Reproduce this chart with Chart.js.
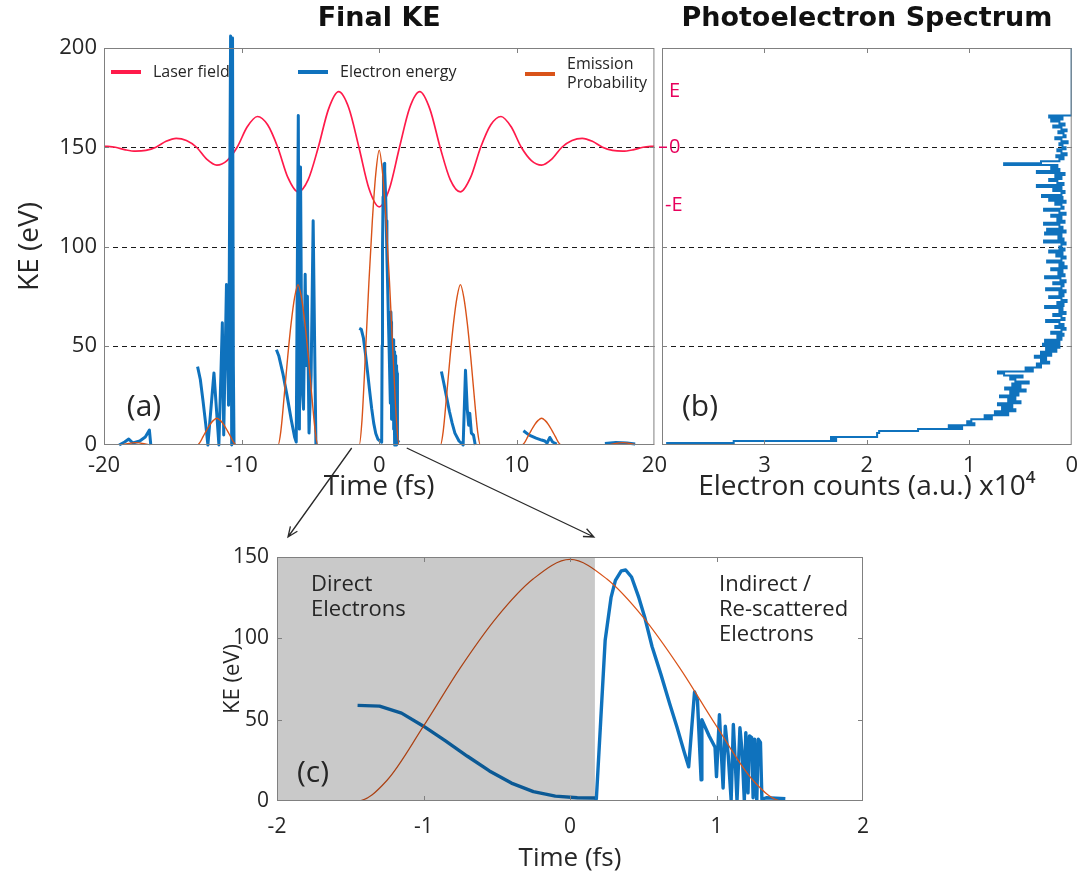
<!DOCTYPE html>
<html>
<head>
<meta charset="utf-8">
<script src="https://cdn.jsdelivr.net/npm/chart.js@4.4.1/dist/chart.umd.min.js"></script>
<style>
  body { margin: 0; background: #fff; }
  #wrap { position: relative; width: 1086px; height: 875px; overflow: hidden; }
  canvas { position: absolute; }
</style>
</head>
<body>
<div id="wrap">
  <canvas id="cA" width="675" height="510" style="left:0;top:0"></canvas>
  <canvas id="cB" width="446" height="510" style="left:640px;top:0"></canvas>
  <canvas id="cC" width="700" height="345" style="left:190px;top:530px"></canvas>
  <canvas id="arrows" width="1086" height="875" style="left:0;top:0;pointer-events:none"></canvas>
</div>
<script>
// Laser field (drawn offset around 150 eV)
const laserT = [-20, -19.175, -18.44, -17.7, -16.96, -16.225, -15.49, -14.75, -14.01, -13.275, -12.54, -11.8, -11.06, -10.325,
  -9.59, -8.85, -8.11, -7.375, -6.64, -5.9, -5.16, -4.425, -3.69, -2.95, -2.21, -1.475, -0.74, 0,
  0.74, 1.475, 2.21, 2.95, 3.69, 4.425, 5.16, 5.9, 6.64, 7.375, 8.11, 8.85, 9.59, 10.325, 11.06, 11.8,
  12.54, 13.275, 14.01, 14.75, 15.49, 16.225, 16.96, 17.7, 18.44, 19.175, 20];
const laserKE = [150.6, 150, 148.7, 148, 148.4, 150, 153, 154.5, 153.4, 150, 144, 141, 143.3, 150,
  160.3, 165.5, 161.3, 150, 134.8, 127.5, 133.7, 150, 169.1, 178, 169.8, 150, 129.1, 120,
  129.1, 150, 169.8, 178, 169.1, 150, 133.7, 127.5, 134.8, 150, 161.3, 165.5, 160.3, 150, 143.3, 141,
  144, 150, 153.4, 154.5, 153, 150, 148.4, 148, 148.7, 150, 150.6];

// Emission probability (scaled to eV axis)
const emissionT = [-20, -18.9, -17.7, -16.5,
  -13.25, -13.05, -12.8, -12.55, -12.3, -12.05, -11.8, -11.55, -11.3, -11.05, -10.8, -10.55, -10.35,
  -7.35, -7.15, -6.9, -6.65, -6.4, -6.15, -5.9, -5.65, -5.4, -5.15, -4.9, -4.65, -4.45,
  -1.45, -1.25, -1, -0.75, -0.5, -0.25, 0, 0.25, 0.5, 0.75, 1, 1.25, 1.45,
  4.45, 4.65, 4.9, 5.15, 5.4, 5.65, 5.9, 6.15, 6.4, 6.65, 6.9, 7.15, 7.35,
  10.35, 10.55, 10.8, 11.05, 11.3, 11.55, 11.8, 12.05, 12.3, 12.55, 12.8, 13.05, 13.25,
  16.5, 17.7, 18.9, 20];
const emissionKE = [0, 0, 1.2, 0,
  0, 1.1, 4.2, 7.4, 10.3, 12.4, 13.5, 12.4, 10.3, 7.4, 4.2, 1.1, 0,
  0, 6.9, 25, 44.4, 61.4, 74.3, 80.8, 74.3, 61.4, 44.4, 25, 6.9, 0,
  0, 12.6, 46, 81.7, 112.9, 136.6, 148.5, 136.6, 112.9, 81.7, 46, 12.6, 0,
  0, 6.9, 25, 44.4, 61.4, 74.3, 80.8, 74.3, 61.4, 44.4, 25, 6.9, 0,
  0, 1.1, 4.2, 7.4, 10.3, 12.4, 13.5, 12.4, 10.3, 7.4, 4.2, 1.1, 0,
  0, 1.2, 0, 0];

// Final electron energy vs. birth time (null = gap)
const elecT = [
  -18.9, -18.5, -18.2, -17.9, -17.4, -17.0, -16.7, -16.6,
  -15,
  -13.2, -13.0, -12.8, -12.6, -12.45, -12.01, -11.65, -11.4, -11.3, -11.1, -10.95, -10.8, -10.72, -10.66, -10.6, -10.55,
  -9,
  -7.47, -7.3, -7.0, -6.7, -6.4, -6.15, -6.03, -5.88, -5.8, -5.72, -5.62, -5.5, -5.38, -5.3, -5.22, -5.1, -4.95, -4.8, -4.7, -4.6,
  -3,
  -1.45, -1.3, -1.15, -1.0, -0.85, -0.7, -0.55, -0.4, -0.25, -0.1, 0.05, 0.17,
  0.18, 0.21, 0.24, 0.28, 0.31, 0.35, 0.38, 0.42, 0.47, 0.51, 0.56, 0.62, 0.68, 0.73, 0.78, 0.81,
  0.85, 0.87, 0.895, 0.9, 0.95, 0.99, 1.0, 1.02, 1.045, 1.06, 1.08, 1.1, 1.115, 1.13, 1.14,
  1.16, 1.175, 1.19, 1.2, 1.215, 1.225, 1.24, 1.25, 1.26, 1.275, 1.285, 1.3, 1.31, 1.34, 1.47,
  3,
  4.52, 4.7, 4.9, 5.1, 5.3, 5.5, 5.8, 6.1, 6.27, 6.4, 6.5, 6.58, 6.7, 6.85, 6.98,
  9,
  10.48, 10.9, 11.4, 11.8, 12.04, 12.2, 12.4, 12.6, 12.9,
  15,
  16.4, 17.2, 18.0, 18.6];
const elecKE = [
  0, 1.5, 3, 1, 2, 4, 7.5, 0,
  null,
  39.5, 33, 22, 10, 0, 36.3, 0, 61.6, 5, 80.8, 20, 206, 0, 205, 40, 0,
  null,
  48, 45, 36, 25, 13, 4, 1.5, 166, 8, 140, 30, 18, 86, 40, 75, 6, 35, 113, 55, 0,
  null,
  58.8, 58.3, 54, 46, 37, 27.5, 18.5, 11, 5.8, 3, 2, 1.8,
  1.4, 50, 98.8, 125, 135.6, 141.5, 142, 137.7, 125, 113, 95, 78, 60, 45.5, 30, 21,
  67, 62, 13, 50, 40, 33, 15, 53, 8, 46, 28, 0.5, 47, 20, 0,
  45, 30, 0, 42, 5, 40, 39, 2, 38, 0, 38, 36, 1, 2, 1.4,
  null,
  37, 31, 24, 17, 11, 6, 2, 0, 37.6, 18, 10, 16, 6, 5, 0,
  null,
  7.2, 5, 3.5, 2.5, 2, 1, 3.8, 1.5, 0.5,
  null,
  0.8, 1.2, 1, 0.5];

// Photoelectron spectrum: energy bins (eV) and counts (x10^4)
const specE = [0, 1, 2, 3, 4, 6, 7, 8, 9, 10, 11, 12, 13, 14, 15, 16, 17, 18, 19, 20, 21, 22, 23, 24, 25,
  26, 27, 28, 29, 30, 31, 32, 33, 34, 35, 36, 37, 38, 39, 40, 41, 42, 43, 44, 45, 46, 47, 48, 49, 50,
  51, 52, 53, 54, 55, 56, 57, 58, 59, 60, 61, 62, 63, 64, 65, 66, 67, 68, 69, 70,
  71, 72, 73, 74, 75, 76, 77, 78, 79, 80, 81, 82, 83, 84, 85, 86, 87, 88, 89, 90,
  91, 92, 93, 94, 95, 96, 97, 98, 99, 100, 101, 102, 103, 104, 105, 106, 107, 108, 109, 110,
  111, 112, 113, 114, 115, 116, 117, 118, 119, 120, 121, 122, 123, 124, 125, 126, 127, 128, 129, 130,
  131, 132, 133, 134, 135, 136, 137, 138, 139, 140, 141, 142, 143, 144, 145, 146, 147, 148, 149, 150,
  151, 152, 153, 154, 155, 156, 157, 158, 159, 160, 161, 162, 163, 164, 165, 166, 200];
const specC = [3.95, 3.3, 2.3, 2.35, 1.9, 1.88, 1.5, 1.07, 1.2, 0.95, 1.02, 0.98, 0.78, 0.85, 0.62,
  0.75, 0.55, 0.68, 0.58, 0.72, 0.5, 0.62, 0.55, 0.7, 0.52, 0.6, 0.45, 0.65, 0.5, 0.58,
  0.42, 0.55, 0.6, 0.48, 0.66, 0.72, 0.38, 0.45, 0.3, 0.34, 0.22, 0.3, 0.25, 0.36, 0.2,
  0.3, 0.15, 0.25, 0.12, 0.28,
  0.12, 0.26, 0.1, 0.14, 0.08, 0.2, 0.1, 0.06, 0.16, 0.08,
  0.12, 0.25, 0.07, 0.1, 0.18, 0.06, 0.12, 0.09, 0.26, 0.08,
  0.14, 0.05, 0.1, 0.22, 0.08, 0.12, 0.06, 0.25, 0.1, 0.08,
  0.18, 0.06, 0.11, 0.26, 0.07, 0.13, 0.09, 0.2, 0.05, 0.12,
  0.08, 0.24, 0.1, 0.06, 0.15, 0.09, 0.22, 0.07, 0.12, 0.1,
  0.06, 0.27, 0.08, 0.13, 0.1, 0.26, 0.06, 0.24, 0.09, 0.12,
  0.27, 0.07, 0.14, 0.1, 0.2, 0.06, 0.12, 0.27, 0.08, 0.1,
  0.16, 0.06, 0.22, 0.09, 0.29, 0.1, 0.07, 0.18, 0.1, 0.34,
  0.08, 0.14, 0.22, 0.1, 0.16, 0.07, 0.34, 0.12, 0.2, 0.14,
  0.66, 0.3, 0.12, 0.08, 0.15, 0.05, 0.1, 0.14, 0.06, 0.09,
  0.12, 0.04, 0.1, 0.16, 0.06, 0.08, 0.13, 0.05, 0.1, 0.18,
  0.07, 0.12, 0.2, 0.09, 0.22, 0, 0];

// Tick values, guide lines and markers
const timeTicksA = [-10, 0, 10];
const keTicksA = [50, 100, 150];
const dashLevels = [50, 100, 150];
const countTicks = [1, 2, 3];
const timeTicksC = [-1, 0, 1];
const keTicksC = [50, 100];
const fieldLabels = [['E', 178], ['0', 150], ['-E', 121]];
const shadeEnd = 0.17;

const RED = '#ff1a4a', BLUE = '#0f72bd', ORANGE = '#d95319', INK = '#262626';
const FONT = "'Open Sans', sans-serif";

const pts = (xs, ys) => xs.map((x, i) => ({ x: x, y: ys[i] }));

function drawBox(chart, xTicks, yTicks) {
  const { ctx, chartArea: a, scales: { x, y } } = chart;
  ctx.save();
  ctx.strokeStyle = '#808080';
  ctx.lineWidth = 1;
  ctx.strokeRect(a.left + 0.5, a.top + 0.5, a.width - 1, a.height - 1);
  ctx.beginPath();
  xTicks.forEach(v => {
    const px = Math.round(x.getPixelForValue(v)) + 0.5;
    ctx.moveTo(px, a.top); ctx.lineTo(px, a.top + 5);
    ctx.moveTo(px, a.bottom); ctx.lineTo(px, a.bottom - 5);
  });
  yTicks.forEach(v => {
    const py = Math.round(y.getPixelForValue(v)) + 0.5;
    ctx.moveTo(a.left, py); ctx.lineTo(a.left + 5, py);
    ctx.moveTo(a.right, py); ctx.lineTo(a.right - 5, py);
  });
  ctx.stroke();
  ctx.restore();
}

function drawDashes(chart) {
  const { ctx, chartArea: a, scales: { y } } = chart;
  ctx.save();
  ctx.setLineDash([5, 4]);
  ctx.strokeStyle = '#1a1a1a';
  ctx.lineWidth = 1.2;
  dashLevels.forEach(v => {
    const py = Math.round(y.getPixelForValue(v)) + 0.5;
    ctx.beginPath(); ctx.moveTo(a.left, py); ctx.lineTo(a.right, py); ctx.stroke();
  });
  ctx.restore();
}

function panelTitle(chart, text) {
  const { ctx, chartArea: a } = chart;
  ctx.save();
  ctx.font = "bold 27px 'DejaVu Sans', sans-serif";
  ctx.fillStyle = '#111';
  ctx.textAlign = 'center';
  ctx.textBaseline = 'middle';
  ctx.fillText(text, (a.left + a.right) / 2, 19);
  ctx.restore();
}

function label(ctx, text, x, y, size, color) {
  ctx.font = size + 'px ' + FONT;
  ctx.fillStyle = color || INK;
  ctx.fillText(text, x, y);
}

const decorA = {
  id: 'decorA',
  beforeDatasetsDraw: chart => drawDashes(chart),
  afterDatasetsDraw(chart) {
    const { ctx, chartArea: a } = chart;
    drawBox(chart, timeTicksA, keTicksA);
    panelTitle(chart, 'Final KE');
    ctx.save();
    ctx.textBaseline = 'middle';
    // legend
    const items = [[RED, ['Laser field'], 7], [BLUE, ['Electron energy'], 194], [ORANGE, ['Emission', 'Probability'], 421]];
    items.forEach(([c, lines, dx]) => {
      const y0 = a.top + 24 + (lines.length > 1 ? 2 : 0);
      ctx.strokeStyle = c; ctx.lineWidth = 4;
      ctx.beginPath(); ctx.moveTo(a.left + dx, y0); ctx.lineTo(a.left + dx + 30, y0); ctx.stroke();
      lines.forEach((t, i) => label(ctx, t, a.left + dx + 42, y0 + (i - (lines.length - 1) / 2) * 19, 16));
    });
    ctx.textAlign = 'center';
    label(ctx, '(a)', a.left + 40, a.bottom - 38, 30);
    ctx.restore();
  }
};

const decorB = {
  id: 'decorB',
  beforeDatasetsDraw: chart => drawDashes(chart),
  afterDatasetsDraw(chart) {
    const { ctx, chartArea: a, scales: { y } } = chart;
    drawBox(chart, countTicks, keTicksA);
    panelTitle(chart, 'Photoelectron Spectrum');
    ctx.save();
    ctx.textBaseline = 'middle';
    fieldLabels.forEach(([t, v]) => label(ctx, t, a.left + (t === '-E' ? 3 : 7), y.getPixelForValue(v), 20, '#e8005c'));
    ctx.strokeStyle = '#e8005c'; ctx.lineWidth = 1.5;
    const p0 = y.getPixelForValue(150);
    ctx.beginPath(); ctx.moveTo(a.left - 3, p0); ctx.lineTo(a.left + 5, p0); ctx.stroke();
    ctx.textAlign = 'center';
    label(ctx, '(b)', a.left + 38, a.bottom - 38, 30);
    ctx.restore();
  }
};

const decorC = {
  id: 'decorC',
  afterDatasetsDraw(chart) {
    const { ctx, chartArea: a, scales: { x } } = chart;
    ctx.save();
    ctx.fillStyle = 'rgba(0,0,0,0.21)';
    const xs = x.getPixelForValue(shadeEnd);
    ctx.fillRect(a.left, a.top, xs - a.left, a.height);
    ctx.textBaseline = 'middle';
    label(ctx, 'Direct', a.left + 34, a.top + 28, 22);
    label(ctx, 'Electrons', a.left + 34, a.top + 53, 22);
    label(ctx, 'Indirect /', a.left + 442, a.top + 28, 22);
    label(ctx, 'Re-scattered', a.left + 442, a.top + 53, 22);
    label(ctx, 'Electrons', a.left + 442, a.top + 78, 22);
    ctx.textAlign = 'center';
    label(ctx, '(c)', a.left + 36, a.bottom - 28, 30);
    ctx.restore();
    drawBox(chart, timeTicksC, keTicksC);
  }
};

const tickFont = { family: FONT, size: 22 };
const titleFont = { family: FONT, size: 28 };

const chartA = new Chart(document.getElementById('cA'), {
  type: 'line',
  data: {
    datasets: [
      { label: 'Emission Probability', data: pts(emissionT, emissionKE), borderColor: ORANGE, borderWidth: 1.4,
        pointRadius: 0, cubicInterpolationMode: 'monotone', order: 0 },
      { label: 'Electron energy', data: pts(elecT, elecKE), borderColor: BLUE, borderWidth: 3, pointRadius: 0,
        tension: 0, spanGaps: false, borderJoinStyle: 'round', clip: false, order: 1 },
      { label: 'Laser field', data: pts(laserT, laserKE), borderColor: RED, borderWidth: 1.7, pointRadius: 0,
        cubicInterpolationMode: 'monotone', order: 2 }
    ]
  },
  options: {
    responsive: false, animation: false,
    layout: { padding: { top: 48, right: 13, left: 0, bottom: 0 } },
    plugins: { legend: { display: false }, tooltip: { enabled: false } },
    scales: {
      x: {
        type: 'linear', min: -20, max: 20,
        ticks: { stepSize: 10, padding: 8, font: tickFont, color: INK, maxRotation: 0 },
        grid: { display: false, drawTicks: false }, border: { display: false },
        title: { display: true, text: 'Time (fs)', font: titleFont, color: INK, padding: { top: 0, bottom: 6 } },
        afterFit: s => { s.height = 65; }
      },
      y: {
        min: 0, max: 200,
        ticks: { stepSize: 50, padding: 7, font: tickFont, color: INK },
        grid: { display: false, drawTicks: false }, border: { display: false },
        title: { display: true, text: 'KE (eV)', font: titleFont, color: INK, padding: { top: 13, bottom: 0 } },
        afterFit: s => { s.width = 104; }
      }
    }
  },
  plugins: [decorA]
});

const chartB = new Chart(document.getElementById('cB'), {
  type: 'scatter',
  data: {
    datasets: [{ label: 'Spectrum', data: pts(specC, specE), showLine: true, stepped: 'after',
      borderColor: BLUE, borderWidth: 2, pointRadius: 0 }]
  },
  options: {
    responsive: false, animation: false,
    layout: { padding: { top: 48, right: 11, left: 22, bottom: 0 } },
    plugins: { legend: { display: false }, tooltip: { enabled: false } },
    scales: {
      x: {
        type: 'linear', min: 0, max: 4, reverse: true,
        ticks: { stepSize: 1, padding: 8, font: tickFont, color: INK, callback: v => (v === 4 ? '' : v) },
        grid: { display: false, drawTicks: false }, border: { display: false },
        title: { display: true, text: 'Electron counts (a.u.) x10\u2074', font: titleFont, color: INK, padding: { top: 0, bottom: 6 } },
        afterFit: s => { s.height = 65; }
      },
      y: { display: false, min: 0, max: 200 }
    }
  },
  plugins: [decorB]
});

const chartC = new Chart(document.getElementById('cC'), {
  type: 'line',
  data: {
    datasets: [
      { label: 'Emission Probability', data: pts(emissionT, emissionKE), borderColor: ORANGE, borderWidth: 1.2,
        pointRadius: 0, cubicInterpolationMode: 'monotone', order: 0 },
      { label: 'Electron energy', data: pts(elecT, elecKE), borderColor: BLUE, borderWidth: 3.4, pointRadius: 0,
        tension: 0, spanGaps: false, borderJoinStyle: 'round', order: 1 }
    ]
  },
  options: {
    responsive: false, animation: false,
    layout: { padding: { top: 27, right: 27, left: 0, bottom: 0 } },
    plugins: { legend: { display: false }, tooltip: { enabled: false } },
    scales: {
      x: {
        type: 'linear', min: -2, max: 2,
        ticks: { stepSize: 1, padding: 13, font: { family: FONT, size: 21 }, color: INK, maxRotation: 0 },
        grid: { display: false, drawTicks: false }, border: { display: false },
        title: { display: true, text: 'Time (fs)', font: { family: FONT, size: 26 }, color: INK, padding: { top: 0, bottom: 1 } },
        afterFit: s => { s.height = 74; }
      },
      y: {
        min: 0, max: 150,
        ticks: { stepSize: 50, padding: 8, font: { family: FONT, size: 21 }, color: INK },
        grid: { display: false, drawTicks: false }, border: { display: false },
        title: { display: true, text: 'KE (eV)', font: { family: FONT, size: 22 }, color: INK, padding: { top: 30, bottom: 0 } },
        afterFit: s => { s.width = 87; }
      }
    }
  },
  plugins: [decorC]
});

// Zoom arrows from panel (a) down to panel (c)
(function drawArrows() {
  const ctx = document.getElementById('arrows').getContext('2d');
  const ax = chartA.scales.x, ay = chartA.scales.y;
  const c = chartC.chartArea, cx = chartC.scales.x;
  const y0 = ay.getPixelForValue(0) + 3;
  const y1 = 530 + c.top - 20;
  const arrow = (x0, x1) => {
    const ang = Math.atan2(y1 - y0, x1 - x0);
    ctx.beginPath();
    ctx.moveTo(x0, y0); ctx.lineTo(x1, y1);
    ctx.moveTo(x1 - 11 * Math.cos(ang - 0.4), y1 - 11 * Math.sin(ang - 0.4));
    ctx.lineTo(x1, y1);
    ctx.lineTo(x1 - 11 * Math.cos(ang + 0.4), y1 - 11 * Math.sin(ang + 0.4));
    ctx.stroke();
  };
  ctx.strokeStyle = '#2a2a2a';
  ctx.lineWidth = 1.3;
  arrow(ax.getPixelForValue(-2), 190 + c.left + 11);
  arrow(ax.getPixelForValue(2), 190 + cx.getPixelForValue(shadeEnd) - 1);
})();
</script>
</body>
</html>
